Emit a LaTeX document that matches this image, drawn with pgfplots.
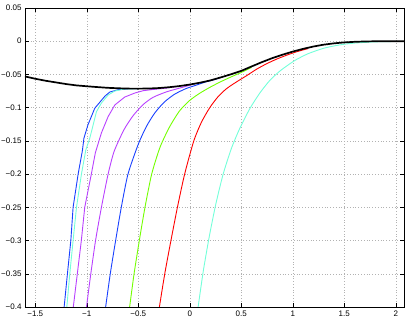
\documentclass[border=0pt]{standalone}
\usepackage{pgfplots}
\pgfplotsset{compat=1.18}
\usepackage{fontspec}
\setmainfont{Liberation Sans}
\definecolor{cblue}{rgb}{0.1,0.25,1}
\definecolor{ccyan}{rgb}{0.45,1,0.85}
\definecolor{cpurp}{rgb}{0.72,0.25,1}
\definecolor{cgreen}{rgb}{0.45,1,0}
\definecolor{cred}{rgb}{1,0,0}
\begin{document}
\begin{tikzpicture}
\begin{axis}[
  at={(0,0)}, anchor=south west,
  scale only axis, width=379pt, height=299pt,
  xmin=-1.6, xmax=2.08, ymin=-0.4, ymax=0.05,
  xtick={-1.5,-1,-0.5,0,0.5,1,1.5,2},
  xticklabels={−1.5,−1,−0.5,0,0.5,1,1.5,2},
  ytick={-0.4,-0.35,-0.3,-0.25,-0.2,-0.15,-0.1,-0.05,0,0.05},
  yticklabels={−0.4,−0.35,−0.3,−0.25,−0.2,−0.15,−0.1,−0.05,0,0.05},
  tick pos=both, tick align=inside, major tick length=4pt,
  grid=major, grid style={gray!60, dash pattern=on 0.6pt off 2.2pt, line width=0.4pt},
  axis line style={black, line width=0.7pt},
  tick style={black, line width=0.5pt},
  ticklabel style={font=\fontsize{8}{9}\selectfont},
  every axis plot/.append style={line width=0.9pt, no markers},
]
% blue 1
\addplot[cblue] coordinates {(-1.22,-0.4) (-1.188,-0.35) (-1.155,-0.3) (-1.133,-0.25) (-1.084,-0.2) (-1.042,-0.164) (-1.028,-0.146) (-0.989,-0.126) (-0.923,-0.101) (-0.826,-0.083) (-0.777,-0.0765) (-0.696,-0.073) (-0.6,-0.0716) (-0.5,-0.0714)};
% cyan 1
\addplot[ccyan] coordinates {(-1.194,-0.4) (-1.165,-0.35) (-1.133,-0.3) (-1.1,-0.25) (-1.052,-0.2) (-1.01,-0.164) (-0.971,-0.146) (-0.906,-0.106) (-0.858,-0.093) (-0.793,-0.081) (-0.729,-0.075) (-0.631,-0.0718) (-0.5,-0.0715)};
% purple 1
\addplot[cpurp] coordinates {(-1.131,-0.4) (-1.092,-0.35) (-1.053,-0.3) (-1.02,-0.25) (-0.956,-0.2) (-0.917,-0.168) (-0.858,-0.138) (-0.793,-0.1135) (-0.728,-0.096) (-0.631,-0.084) (-0.534,-0.078) (-0.454,-0.0745) (-0.35,-0.0725) (-0.226,-0.0705) (-0.1,-0.0677)};
% purple 2
\addplot[cpurp, smooth, tension=0.4] coordinates {(-1.003,-0.4) (-0.961,-0.35) (-0.915,-0.3) (-0.858,-0.25) (-0.793,-0.2) (-0.735,-0.166) (-0.64,-0.1335) (-0.55,-0.112) (-0.454,-0.0955) (-0.357,-0.0845) (-0.226,-0.0762) (-0.097,-0.0705) (0.0,-0.0662) (0.05,-0.0638)};
% blue 2
\addplot[cblue, smooth, tension=0.4] coordinates {(-0.817,-0.4) (-0.772,-0.35) (-0.72,-0.3) (-0.665,-0.25) (-0.6,-0.2) (-0.5,-0.155) (-0.42,-0.128) (-0.34,-0.108) (-0.25,-0.092) (-0.15,-0.08) (-0.04,-0.0715) (0.065,-0.066) (0.15,-0.0615) (0.25,-0.0572) (0.3,-0.0546)};
% green
\addplot[cgreen, smooth, tension=0.4] coordinates {(-0.584,-0.4) (-0.541,-0.35) (-0.49,-0.3) (-0.435,-0.25) (-0.37,-0.2) (-0.29,-0.16) (-0.2,-0.13) (-0.1,-0.105) (0,-0.089) (0.1,-0.078) (0.2,-0.069) (0.3,-0.061) (0.4,-0.0538) (0.5,-0.047) (0.6,-0.0395)};
% red
\addplot[cred, smooth, tension=0.4] coordinates {(-0.295,-0.4) (-0.243,-0.35) (-0.183,-0.3) (-0.12,-0.25) (-0.05,-0.2) (0.039,-0.15) (0.113,-0.122) (0.194,-0.1) (0.275,-0.0834) (0.356,-0.0715) (0.45,-0.0616) (0.55,-0.052) (0.65,-0.042) (0.75,-0.0336) (0.85,-0.0265) (0.95,-0.0205) (1.05,-0.0153) (1.15,-0.011)};
% cyan 2
\addplot[ccyan, smooth, tension=0.4] coordinates {(0.081,-0.4) (0.13,-0.347) (0.188,-0.295) (0.253,-0.245) (0.324,-0.2) (0.405,-0.161) (0.486,-0.131) (0.583,-0.1015) (0.68,-0.078) (0.777,-0.059) (0.874,-0.045) (0.971,-0.034) (1.036,-0.0275) (1.15,-0.0187) (1.3,-0.0106) (1.45,-0.0057) (1.6,-0.0028) (1.8,-0.001) (2.0,-0.0004)};
% black
\addplot[black, line width=1.7pt] coordinates {(-1.6,-0.053) (-1.5,-0.0565) (-1.4,-0.0595) (-1.3,-0.062) (-1.2,-0.0645) (-1.1,-0.0665) (-1.0,-0.0678) (-0.9,-0.069) (-0.8,-0.0701) (-0.7,-0.0708) (-0.6,-0.0713) (-0.5,-0.0714) (-0.4,-0.0712) (-0.3,-0.0705) (-0.2,-0.0692) (-0.1,-0.0675) (0,-0.0652) (0.1,-0.0624) (0.2,-0.059) (0.3,-0.0545) (0.4,-0.0498) (0.5,-0.0446) (0.6,-0.038) (0.7,-0.0315) (0.8,-0.0255) (0.9,-0.0203) (1.0,-0.0156) (1.1,-0.0115) (1.2,-0.008) (1.3,-0.0052) (1.4,-0.0032) (1.5,-0.0018) (1.6,-0.0009) (1.7,-0.0004) (1.8,-0.0001) (1.9,0) (2.0,0) (2.08,0)};
\end{axis}
\pgfresetboundingbox
\path[use as bounding box] (-25pt,-13pt) rectangle (382pt,307pt);
\end{tikzpicture}
\end{document}
